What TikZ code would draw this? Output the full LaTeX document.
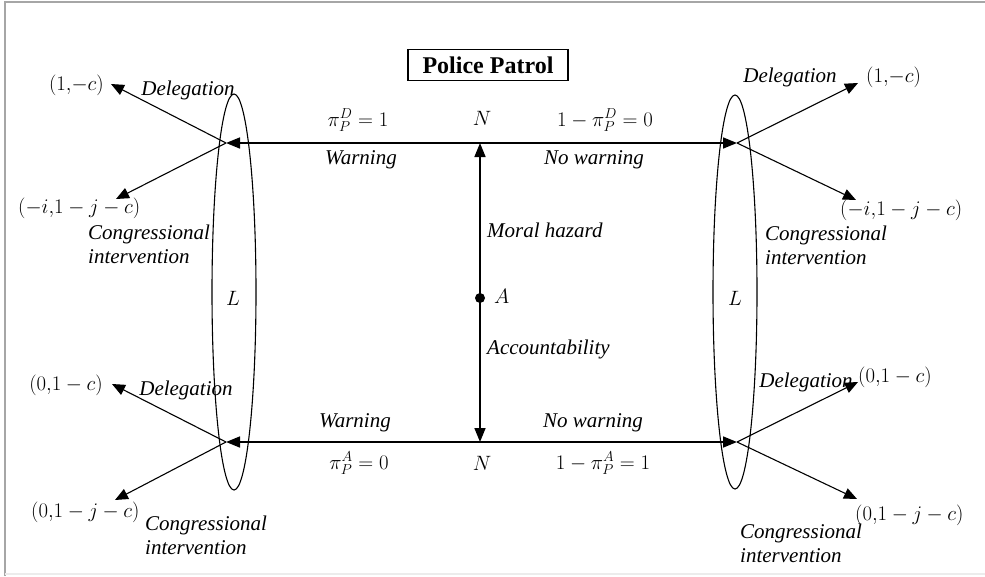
\documentclass[tikz,border=0pt]{standalone}
\usepackage{fontspec}
\setmainfont{Liberation Serif}
\usetikzlibrary{arrows.meta,positioning}

\begin{document}
\begin{tikzpicture}[
    x=1pt, y=-1pt,
    font=\fontsize{20}{23}\selectfont,
    every node/.style={inner sep=0pt},
    move/.style={-{Triangle[length=14pt,width=11pt]}, line width=1.6pt},
    branch/.style={-{Triangle[length=13pt,width=11pt]}, line width=1.1pt},
    infoset/.style={draw, line width=1.1pt},
    act/.style={font=\fontsize{21}{24}\selectfont\itshape},
    note/.style={act, align=left, anchor=west},
    title/.style={draw, line width=1.1pt, minimum width=160pt, minimum height=31pt, font=\fontsize{24}{26}\selectfont\bfseries}
]
\useasboundingbox (0,0) rectangle (985,576);
\draw[gray!70, line width=1.5pt] (5,576) -- (5,2) -- (985,2);
\draw[gray!15, line width=1.2pt] (5,574) -- (985,574);

\node[title] (box) at (488,65) {Police Patrol};

% nature and the two decision points
\coordinate (NT) at (480,143);
\coordinate (NB) at (480,442);
\coordinate (A) at (480,298);
\coordinate (LT) at (226,143);
\coordinate (RT) at (737,143);
\coordinate (LB) at (226,442);
\coordinate (RB) at (737,442);

\draw[move] (NT) -- (LT);
\draw[move] (NT) -- (RT);
\draw[move] (NB) -- (LB);
\draw[move] (NB) -- (RB);
\draw[move] (A) -- (NT);
\draw[move] (A) -- (NB);
\fill (A) circle (5pt);

% legislator information sets
\draw[infoset] (234,292) ellipse (22 and 198);
\draw[infoset] (735,292) ellipse (22 and 197);
\node (L1) at (233,298) {$L$};
\node (L2) at (735,298) {$L$};

% labels on the middle
\node (pD) at (358,120) {$\pi_P^D=1$};
\node (N1) at (482,118) {$N$};
\node (qD) at (605,120) {$1-\pi_P^D=0$};
\node[act] (w1) at (361,160) {Warning};
\node[act] (nw1) at (594,160) {No warning};
\node[act] (w2) at (355,423) {Warning};
\node[act] (nw2) at (593,423) {No warning};
\node (pA) at (359,463) {$\pi_P^A=0$};
\node (N2) at (482,463) {$N$};
\node (qA) at (603,463) {$1-\pi_P^A=1$};
\node[act, anchor=west] (mh) at (487,230) {Moral hazard};
\node[anchor=west] (lA) at (494,296) {$A$};
\node[act, anchor=west] (acc) at (487,349) {Accountability};

% end points of the branches
\coordinate (e1) at (111,84);
\coordinate (e2) at (116,199);
\coordinate (e3) at (858,83);
\coordinate (e4) at (856,200);
\coordinate (e5) at (112,384);
\coordinate (e6) at (115,500);
\coordinate (e7) at (858,382);
\coordinate (e8) at (857,499);
\draw[branch] (LT) -- (e1);
\draw[branch] (LT) -- (e2);
\draw[branch] (RT) -- (e3);
\draw[branch] (RT) -- (e4);
\draw[branch] (LB) -- (e5);
\draw[branch] (LB) -- (e6);
\draw[branch] (RB) -- (e7);
\draw[branch] (RB) -- (e8);

% payoffs
\node[anchor=east] (u1) at (104,85) {$(1{,}{-}c)$};
\node[anchor=west] (u2) at (18,208) {$(-i{,}1-j-c)$};
\node[anchor=west] (u3) at (866,77) {$(1{,}{-}c)$};
\node[anchor=west] (u4) at (840,210) {$(-i{,}1-j-c)$};
\node[anchor=east] (u5) at (103,385) {$(0{,}1-c)$};
\node[anchor=west] (u6) at (31,512) {$(0{,}1-j-c)$};
\node[anchor=west] (u7) at (858,377) {$(0{,}1-c)$};
\node[anchor=west] (u8) at (855,515) {$(0{,}1-j-c)$};

% actions of the legislator
\node[act] (d1) at (188,90) {Delegation};
\node[act] (d2) at (790,77) {Delegation};
\node[act] (d3) at (186,390) {Delegation};
\node[act] (d4) at (806,382) {Delegation};
\node[note] (c1) at (88,244) {Congressional\\intervention};
\node[note] (c2) at (765,245) {Congressional\\intervention};
\node[note] (c3) at (145,535) {Congressional\\intervention};
\node[note] (c4) at (740,543) {Congressional\\intervention};
\end{tikzpicture}
\end{document}
